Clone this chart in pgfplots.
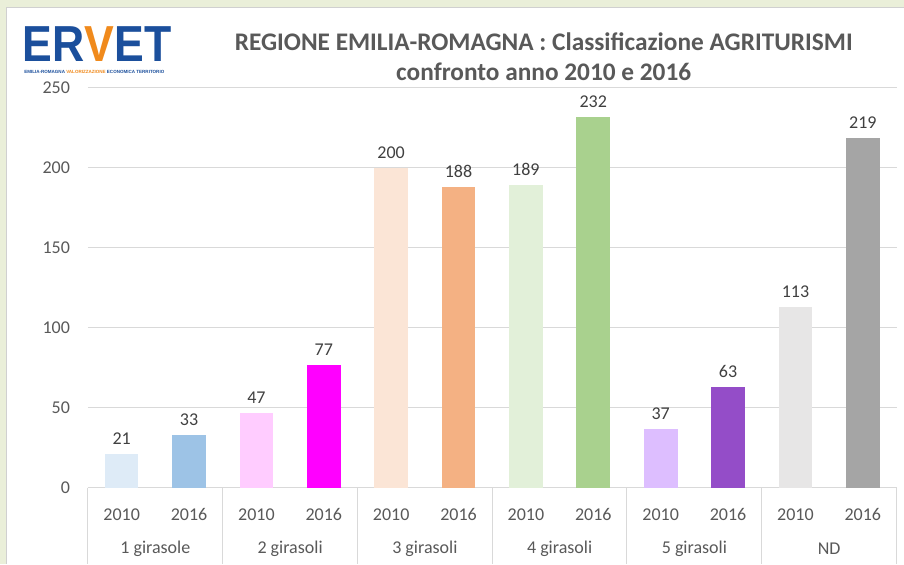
\documentclass[border=0pt]{standalone}
\usepackage{fontspec}
\setmainfont{Carlito}
\newfontfamily\logofont{Liberation Sans}
\usepackage{pgfplots}
\pgfplotsset{compat=1.18}
\definecolor{txt}{HTML}{595959}
\definecolor{valc}{HTML}{404040}
\definecolor{gridc}{HTML}{D9D9D9}
\definecolor{bgg}{HTML}{EAEFD9}
\definecolor{framegray}{HTML}{D0D0D0}
\definecolor{logoblue}{HTML}{1B4F9C}
\definecolor{logoorange}{HTML}{F08A1C}
\definecolor{aA}{HTML}{DEEBF7}\definecolor{aB}{HTML}{9DC3E6}
\definecolor{bA}{HTML}{FFCCFF}\definecolor{bB}{HTML}{FF00FF}
\definecolor{cA}{HTML}{FBE5D6}\definecolor{cB}{HTML}{F4B183}
\definecolor{dA}{HTML}{E2F0D9}\definecolor{dB}{HTML}{A9D18E}
\definecolor{eA}{HTML}{DDBEFF}\definecolor{eB}{HTML}{944DC8}
\definecolor{fA}{HTML}{E7E6E6}\definecolor{fB}{HTML}{A5A5A5}
\begin{document}
\begin{tikzpicture}
\fill[bgg] (0,0) rectangle (678pt,423pt);
\fill[white] (5.25pt,0) rectangle (678pt,417pt);
\draw[framegray, line width=0.75pt] (5.25pt,0) -- (5.25pt,417pt) -- (678pt,417pt);
% logo
\node[anchor=west, inner sep=0, font=\logofont\bfseries\fontsize{38}{38}\selectfont] at (17pt,390pt)
  {\scalebox{0.88}[1]{\textcolor{logoblue}{ER}\textcolor{logoorange}{V}\textcolor{logoblue}{ET}}};
\node[anchor=west, inner sep=0, font=\logofont\bfseries\fontsize{3.4}{4}\selectfont] at (18pt,369pt)
  {\textcolor{logoblue}{EMILIA-ROMAGNA} \textcolor{logoorange}{VALORIZZAZIONE} \textcolor{logoblue}{ECONOMICA TERRITORIO}};
% title
\node[align=center, text=txt, font=\bfseries\fontsize{19}{22.5}\selectfont] at (408pt,380.25pt)
  {REGIONE EMILIA-ROMAGNA : Classificazione AGRITURISMI\\confronto anno 2010 e 2016};
\begin{axis}[
  at={(66pt,57pt)}, anchor=south west,
  scale only axis, width=606.75pt, height=300pt,
  xmin=-0.5, xmax=11.5, ymin=0, ymax=250,
  ytick={0,50,...,250},
  xtick={0,...,11},
  xticklabels={2010,2016,2010,2016,2010,2016,2010,2016,2010,2016,2010,2016},
  major tick length=0pt,
  axis line style={draw=none},
  ymajorgrids, grid style={gridc, line width=0.75pt},
  clip=false,
  /pgf/number format/assume math mode=true,
  tick label style={text=txt, font=\fontsize{13.5}{16}\selectfont},
  yticklabel style={anchor=east, xshift=-10pt},
  xticklabel style={anchor=center, yshift=-20.25pt},
  nodes near coords, nodes near coords align={vertical},
  every node near coord/.append style={text=valc, font=\fontsize{13.5}{16}\selectfont, yshift=3.5pt},
]
\addplot[ybar, bar width=0.5, fill=aA, draw=none] coordinates {(0,21)};
\addplot[ybar, bar width=0.5, fill=aB, draw=none] coordinates {(1,33)};
\addplot[ybar, bar width=0.5, fill=bA, draw=none] coordinates {(2,47)};
\addplot[ybar, bar width=0.5, fill=bB, draw=none] coordinates {(3,77)};
\addplot[ybar, bar width=0.5, fill=cA, draw=none] coordinates {(4,200)};
\addplot[ybar, bar width=0.5, fill=cB, draw=none] coordinates {(5,188)};
\addplot[ybar, bar width=0.5, fill=dA, draw=none] coordinates {(6,189)};
\addplot[ybar, bar width=0.5, fill=dB, draw=none] coordinates {(7,232)};
\addplot[ybar, bar width=0.5, fill=eA, draw=none] coordinates {(8,37)};
\addplot[ybar, bar width=0.5, fill=eB, draw=none] coordinates {(9,63)};
\addplot[ybar, bar width=0.5, fill=fA, draw=none] coordinates {(10,113)};
\addplot[ybar, bar width=0.5, fill=fB, draw=none] coordinates {(11,219)};
\pgfplotsinvokeforeach{-0.5,1.5,3.5,5.5,7.5,9.5,11.5}{
  \draw[gridc, line width=0.75pt] (axis cs:#1,0) -- ++(0pt,-57pt);
}
\node[text=txt, font=\fontsize{13.5}{16}\selectfont, yshift=-45.75pt] at (axis cs:0.5,0) {1 girasole};
\node[text=txt, font=\fontsize{13.5}{16}\selectfont, yshift=-45.75pt] at (axis cs:2.5,0) {2 girasoli};
\node[text=txt, font=\fontsize{13.5}{16}\selectfont, yshift=-45.75pt] at (axis cs:4.5,0) {3 girasoli};
\node[text=txt, font=\fontsize{13.5}{16}\selectfont, yshift=-45.75pt] at (axis cs:6.5,0) {4 girasoli};
\node[text=txt, font=\fontsize{13.5}{16}\selectfont, yshift=-45.75pt] at (axis cs:8.5,0) {5 girasoli};
\node[text=txt, font=\fontsize{13.5}{16}\selectfont, yshift=-45.75pt] at (axis cs:10.5,0) {ND};
\end{axis}
\end{tikzpicture}
\end{document}
